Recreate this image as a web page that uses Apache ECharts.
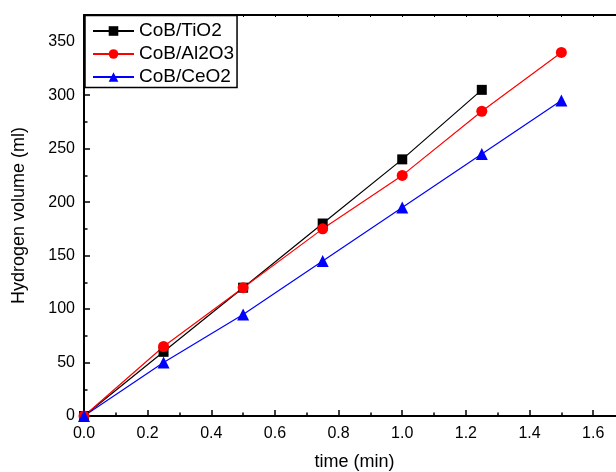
<!DOCTYPE html>
<html>
<head>
<meta charset="utf-8">
<script src="https://cdn.jsdelivr.net/npm/echarts@6/dist/echarts.min.js"></script>
<style>html,body{margin:0;padding:0;background:#fff}#c{width:616px;height:472px}</style>
</head>
<body>
<div id="c"></div>
<script>
const seriesNames = ['CoB/TiO2', 'CoB/Al2O3', 'CoB/CeO2'];
const timeTiO2 = [0, 0.25, 0.5, 0.75, 1.0, 1.25];
const volTiO2 = [0, 60, 120, 180, 240, 305];
const timeAl2O3 = [0, 0.25, 0.5, 0.75, 1.0, 1.25, 1.5];
const volAl2O3 = [0, 65, 120, 175, 225, 285, 340];
const timeCeO2 = [0, 0.25, 0.5, 0.75, 1.0, 1.25, 1.5];
const volCeO2 = [0, 50, 95, 145, 195, 245, 295];

const pair = (xs, ys) => xs.map((x, i) => [x, ys[i]]);
const FONT = 'Liberation Sans, Arial, sans-serif';

const chart = echarts.init(document.getElementById('c'), null, {renderer: 'canvas'});
chart.setOption({
  animation: false,
  backgroundColor: '#fff',
  textStyle: {fontFamily: FONT},
  grid: {left: 84, top: 15, bottom: 56, right: -9, containLabel: false, outerBoundsMode: 'none'},
  legend: {
    left: 85, top: 15.5,
    orient: 'vertical',
    data: seriesNames,
    itemWidth: 41, itemHeight: 12, itemGap: 4,
    padding: [6, 3, 1, 7],
    borderColor: '#000', borderWidth: 1.5, borderRadius: 0,
    backgroundColor: '#fff',
    textStyle: {fontFamily: FONT, fontSize: 19, lineHeight: 19, color: '#000'}
  },
  xAxis: [{
    type: 'value', min: 0, max: 1.7, interval: 0.2,
    name: 'time (min)', nameLocation: 'middle', nameGap: 37,
    nameTextStyle: {fontFamily: FONT, fontSize: 18, color: '#000'},
    axisLine: {lineStyle: {color: '#000', width: 2}},
    axisTick: {inside: true, length: 6, lineStyle: {color: '#000', width: 1.5}},
    minorTick: {show: true, splitNumber: 2, length: 3.5, lineStyle: {color: '#000', width: 1.5}},
    axisLabel: {fontFamily: FONT, fontSize: 16, color: '#000', margin: 10, showMaxLabel: false,
      formatter: v => v.toFixed(1)},
    splitLine: {show: false}
  }, {
    type: 'value', position: 'top', min: 0, max: 1.7, interval: 0.2,
    axisLine: {lineStyle: {color: '#000', width: 2}},
    axisTick: {inside: true, length: 2, lineStyle: {color: '#000', width: 1}},
    minorTick: {show: true, splitNumber: 2, length: 2, lineStyle: {color: '#000', width: 1}},
    axisLabel: {show: false},
    splitLine: {show: false}
  }],
  yAxis: {
    type: 'value', min: 0, max: 375, interval: 50,
    name: 'Hydrogen volume (ml)', nameLocation: 'middle', nameGap: 56,
    nameTextStyle: {fontFamily: FONT, fontSize: 18, color: '#000'},
    axisLine: {lineStyle: {color: '#000', width: 2}},
    axisTick: {inside: true, length: 6, lineStyle: {color: '#000', width: 1.5}},
    minorTick: {show: true, splitNumber: 2, length: 3.5, lineStyle: {color: '#000', width: 1.5}},
    axisLabel: {fontFamily: FONT, fontSize: 16, color: '#000', margin: 9, showMaxLabel: false},
    splitLine: {show: false}
  },
  series: [{
    name: seriesNames[0], type: 'line', data: pair(timeTiO2, volTiO2),
    symbol: 'rect', symbolSize: 10, color: '#000',
    lineStyle: {width: 1.2, color: '#000'}, itemStyle: {color: '#000'}, clip: false
  }, {
    name: seriesNames[1], type: 'line', data: pair(timeAl2O3, volAl2O3),
    symbol: 'circle', symbolSize: 11, color: '#ff0000',
    lineStyle: {width: 1.2, color: '#ff0000'}, itemStyle: {color: '#ff0000'}, clip: false
  }, {
    name: seriesNames[2], type: 'line', data: pair(timeCeO2, volCeO2),
    symbol: 'triangle', symbolSize: 12, color: '#0000ff',
    lineStyle: {width: 1.2, color: '#0000ff'}, itemStyle: {color: '#0000ff'}, clip: false
  }]
});
</script>
</body>
</html>
